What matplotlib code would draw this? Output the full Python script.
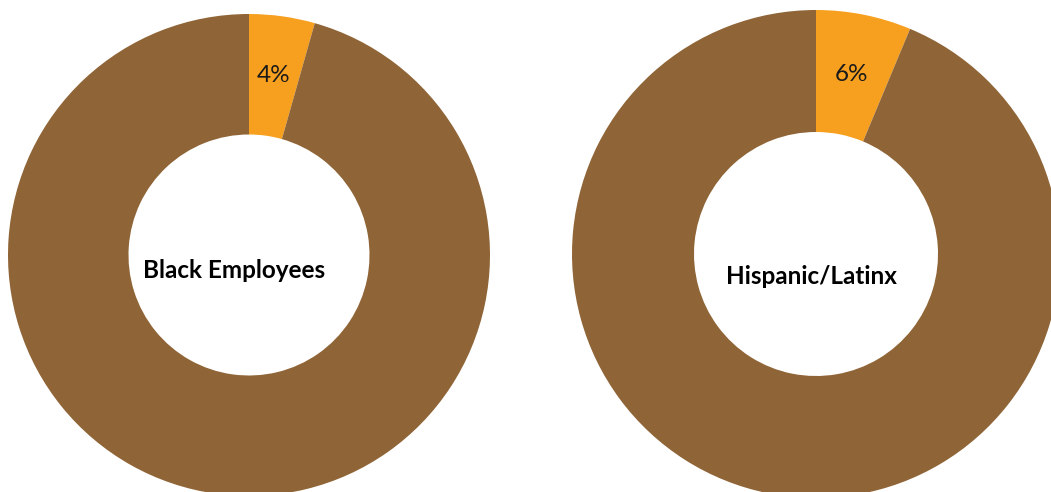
import matplotlib
matplotlib.use("Agg")
import matplotlib.pyplot as plt

# Data
groups = ["Black Employees", "Hispanic/Latinx"]
share = [4.4, 6.3]          # percent
colors = ["#F7A01F", "#8F6436"]

plt.rcParams['font.family'] = ['Lato', 'DejaVu Sans']

W, H = 1051, 492
fig = plt.figure(figsize=(W / 100, H / 100), dpi=100)
ax = fig.add_axes([0, 0, 1, 1])
ax.set_xlim(0, W)
ax.set_ylim(0, H)
ax.set_aspect('equal')
ax.axis('off')

# layout (pixel coordinates, y from top)
centers = [(249, 255), (816, 254)]
radii = [241, 244]
title_pos = [(234, 270), (811, 276)]

for g, v, (cx, cy), r, (tx, ty) in zip(groups, share, centers, radii, title_pos):
    vals = [v, 100 - v]
    wedges, texts, autotexts = ax.pie(
        vals, colors=colors, startangle=90, counterclock=False,
        center=(cx, H - cy), radius=r,
        wedgeprops=dict(width=r * 0.5, linewidth=0),
        autopct='%.0f%%', pctdistance=0.75,
        textprops=dict(fontsize=17.5, color='#1a1a1a'))
    autotexts[1].set_visible(False)
    ax.text(tx, H - ty, g, ha='center', va='center', fontsize=17.5,
            fontweight='bold', color='black')

ax.set_xlim(0, W)
ax.set_ylim(0, H)
fig.savefig("out.png", dpi=100)
